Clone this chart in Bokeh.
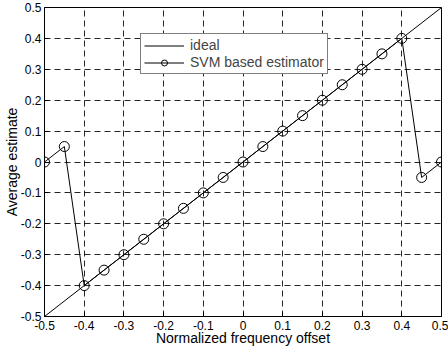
from bokeh.plotting import figure
from bokeh.models import Range1d, FixedTicker, Legend, LegendItem
from bokeh.embed import file_html
from bokeh.resources import INLINE

# Data
tick_values = [-0.5, -0.4, -0.3, -0.2, -0.1, 0.0, 0.1, 0.2, 0.3, 0.4, 0.5]
tick_labels = ["-0.5", "-0.4", "-0.3", "-0.2", "-0.1", "0", "0.1", "0.2", "0.3", "0.4", "0.5"]

ideal_x = [-0.5, 0.5]
ideal_y = [-0.5, 0.5]

svm_x = [-0.5, -0.45, -0.4, -0.35, -0.3, -0.25, -0.2, -0.15, -0.1, -0.05, 0.0,
         0.05, 0.1, 0.15, 0.2, 0.25, 0.3, 0.35, 0.4, 0.45, 0.5]
svm_y = [0.0, 0.05, -0.4, -0.35, -0.3, -0.25, -0.2, -0.15, -0.1, -0.05, 0.0,
         0.05, 0.1, 0.15, 0.2, 0.25, 0.3, 0.35, 0.4, -0.05, 0.0]

x_label = "Normalized frequency offset"
y_label = "Average estimate"
series_names = ["ideal", "SVM based estimator"]

FONT = "Liberation Sans"

p = figure(width=448, height=348, output_backend="svg", toolbar_location=None,
           x_range=Range1d(-0.5, 0.5), y_range=Range1d(-0.5, 0.5),
           min_border_left=44, min_border_right=7, min_border_top=7, min_border_bottom=31)
p.background_fill_color = "white"
p.border_fill_color = "white"
p.outline_line_color = "black"
p.outline_line_width = 1

for ax in (p.xaxis[0], p.yaxis[0]):
    ax.ticker = FixedTicker(ticks=tick_values)
    ax.major_label_overrides = {v: l for v, l in zip(tick_values, tick_labels)}
    ax.major_label_text_font = FONT
    ax.major_label_text_font_size = "12px"
    ax.major_label_text_color = "black"
    ax.axis_label_text_font = FONT
    ax.axis_label_text_font_size = "14px"
    ax.axis_label_text_font_style = "normal"
    ax.axis_label_text_color = "black"
    ax.axis_line_color = "black"
    ax.major_tick_line_color = "black"
    ax.major_tick_in = 4
    ax.major_tick_out = 0
    ax.minor_tick_line_color = None

p.xaxis.axis_label = x_label
p.yaxis.axis_label = y_label
p.xaxis.major_label_standoff = 4
p.xaxis.axis_label_standoff = -3
p.yaxis.major_label_standoff = 3
p.yaxis.axis_label_standoff = -2

for g in (p.xgrid[0], p.ygrid[0]):
    g.ticker = FixedTicker(ticks=tick_values)
    g.grid_line_color = "black"
    g.grid_line_dash = "6 4"
    g.grid_line_width = 1
    g.grid_line_alpha = 0.85

r_ideal = p.line(ideal_x, ideal_y, line_color="black", line_width=1)
r_svm_line = p.line(svm_x, svm_y, line_color="black", line_width=1)
r_svm_mark = p.scatter(svm_x, svm_y, marker="circle", size=10, fill_color=None,
                       line_color="black", line_width=1)

legend = Legend(items=[LegendItem(label=series_names[0], renderers=[r_ideal]),
                       LegendItem(label=series_names[1], renderers=[r_svm_line, r_svm_mark])],
                location=(96, 242))
legend.label_text_font = FONT
legend.label_text_font_size = "14px"
legend.glyph_width = 40
legend.glyph_height = 15
legend.label_height = 15
legend.label_standoff = 6
legend.spacing = 1
legend.padding = 3
legend.margin = 0
legend.border_line_color = "black"
legend.border_line_width = 1
legend.background_fill_color = "white"
legend.background_fill_alpha = 1
p.add_layout(legend, "center")

open("out.html", "w").write(file_html(p, INLINE))
